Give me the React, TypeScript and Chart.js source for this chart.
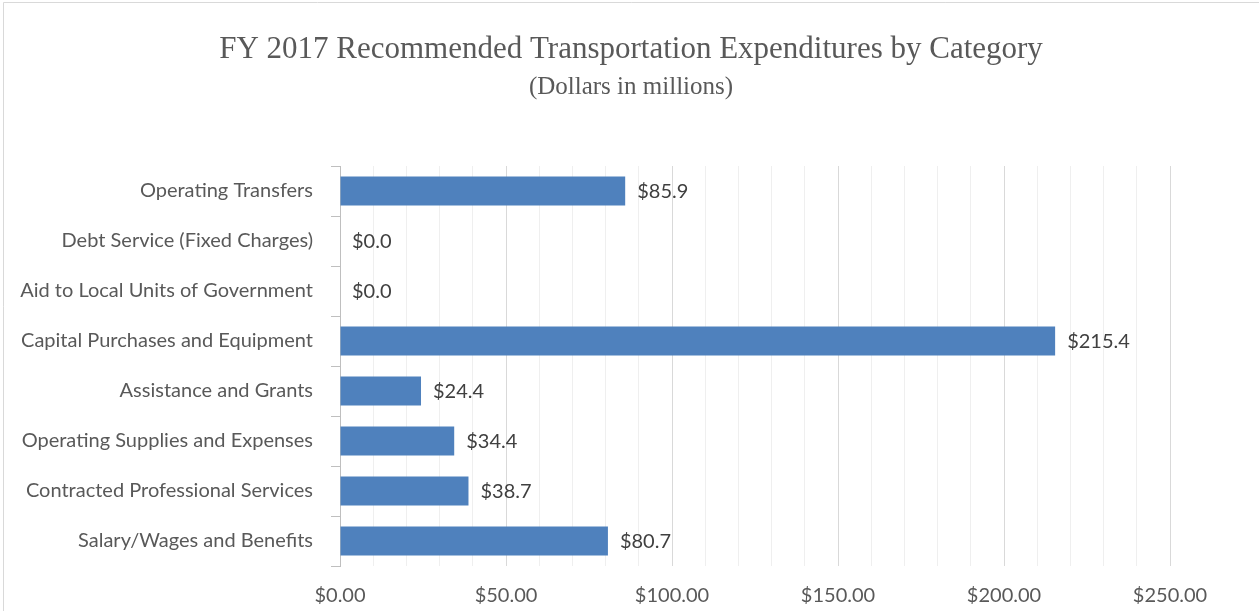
import React, { useEffect, useRef } from "react";
import { Chart, registerables } from "chart.js";

Chart.register(...registerables);

const categories: string[] = [
  "Operating Transfers",
  "Debt Service (Fixed Charges)",
  "Aid to Local Units of Government",
  "Capital Purchases and Equipment",
  "Assistance and Grants",
  "Operating Supplies and Expenses",
  "Contracted Professional Services",
  "Salary/Wages and Benefits",
];
const expenditures: number[] = [85.9, 0.0, 0.0, 215.4, 24.4, 34.4, 38.7, 80.7];
const titleText = "FY 2017 Recommended Transportation Expenditures by Category";
const subtitleText = "(Dollars in millions)";
const xMin = 0;
const xMax = 250;
const minorStep = 10;
const majorStep = 50;

const labelFont = "Lato, 'Open Sans', sans-serif";
const serifFont = "'Liberation Serif', 'DejaVu Serif', serif";

const framePlugin = {
  id: "frame",
  beforeDraw(chart: any) {
    const ctx = chart.ctx;
    ctx.save();
    ctx.fillStyle = "#ffffff";
    ctx.fillRect(0, 0, chart.width, chart.height);
    ctx.strokeStyle = "#d9d9d9";
    ctx.lineWidth = 1;
    ctx.beginPath();
    ctx.moveTo(3.5, chart.height);
    ctx.lineTo(3.5, 2.5);
    ctx.lineTo(chart.width, 2.5);
    ctx.stroke();
    ctx.restore();
  },
};

const headingPlugin = {
  id: "heading",
  afterDraw(chart: any) {
    const ctx = chart.ctx;
    const cx = (3 + chart.width) / 2;
    ctx.save();
    ctx.fillStyle = "#595959";
    ctx.textAlign = "center";
    ctx.textBaseline = "middle";
    ctx.font = `31px ${serifFont}`;
    ctx.fillText(titleText, cx, 50);
    ctx.font = `25px ${serifFont}`;
    ctx.fillText(subtitleText, cx, 87);
    ctx.restore();
  },
};

const valueLabelPlugin = {
  id: "valueLabels",
  afterDatasetsDraw(chart: any) {
    const ctx = chart.ctx;
    const meta = chart.getDatasetMeta(0);
    const data = chart.data.datasets[0].data as number[];
    ctx.save();
    ctx.font = `20px ${labelFont}`;
    ctx.fillStyle = "#404040";
    ctx.textAlign = "left";
    ctx.textBaseline = "middle";
    meta.data.forEach((bar: any, i: number) => {
      const v = data[i];
      ctx.fillText("$" + v.toFixed(1), bar.x + 12, bar.y + 1);
    });
    ctx.restore();
  },
};

export default function App() {
  const canvasRef = useRef<HTMLCanvasElement | null>(null);

  useEffect(() => {
    if (!canvasRef.current) return;
    const chart = new Chart(canvasRef.current, {
      type: "bar",
      data: {
        labels: categories,
        datasets: [
          {
            data: expenditures,
            backgroundColor: "#4f81bd",
            borderColor: "#4f81bd",
            borderWidth: 0,
            barPercentage: 0.58,
            categoryPercentage: 1.0,
          },
        ],
      },
      options: {
        indexAxis: "y",
        animation: false,
        responsive: false,
        devicePixelRatio: 1,
        layout: { padding: { left: 0, right: 89, top: 166, bottom: 0 } },
        plugins: {
          legend: { display: false },
          tooltip: { enabled: false },
          title: { display: false },
        },
        scales: {
          x: {
            type: "linear",
            min: xMin,
            max: xMax,
            afterFit(scale: any) {
              scale.height = 45;
            },
            border: { display: false },
            grid: {
              drawTicks: false,
              color: (c: any) =>
                c.tick && c.tick.value % majorStep === 0 ? "#d9d9d9" : "#efefef",
              lineWidth: 1,
            },
            ticks: {
              stepSize: minorStep,
              autoSkip: false,
              maxRotation: 0,
              padding: 18,
              color: "#595959",
              font: { family: labelFont, size: 20 },
              callback: (v: any) =>
                Number(v) % majorStep === 0 ? "$" + Number(v).toFixed(2) : "",
            },
          },
          y: {
            type: "category",
            afterFit(scale: any) {
              scale.width = 340;
            },
            border: { display: true, color: "#bfbfbf" },
            grid: {
              offset: true,
              drawOnChartArea: false,
              drawTicks: true,
              tickLength: 9,
              color: "#bfbfbf",
            },
            ticks: {
              padding: 18,
              color: "#595959",
              font: { family: labelFont, size: 20 },
            },
          },
        },
      },
      plugins: [framePlugin, valueLabelPlugin, headingPlugin],
    } as any);
    return () => chart.destroy();
  }, []);

  return (
    <div style={{ position: "fixed", left: 0, top: 0, width: 1259, height: 611 }}>
      <canvas ref={canvasRef} width={1259} height={611} style={{ display: "block" }} />
    </div>
  );
}
